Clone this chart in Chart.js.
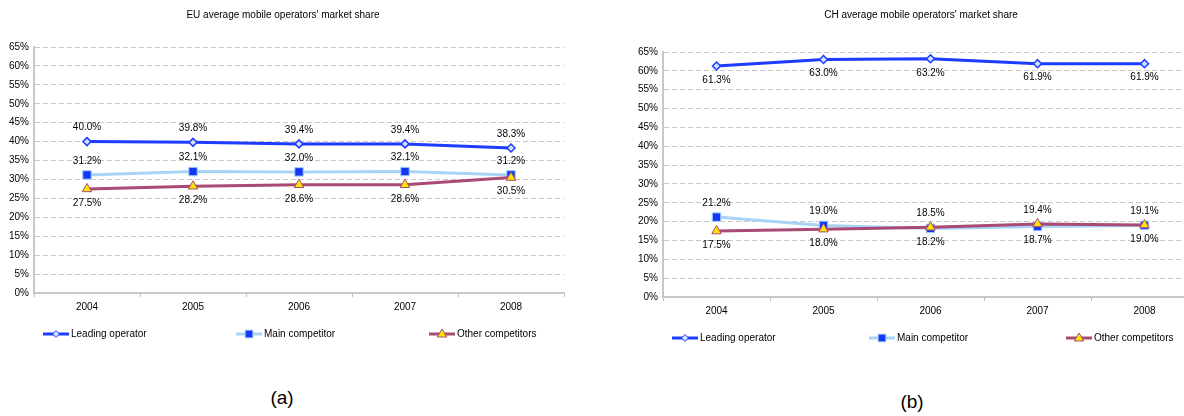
<!DOCTYPE html>
<html>
<head>
<meta charset="utf-8">
<script src="https://cdn.jsdelivr.net/npm/chart.js@4.4.0/dist/chart.umd.min.js"></script>
<style>
  html, body { margin: 0; padding: 0; background: #fff; width: 1184px; height: 416px; overflow: hidden; }
  .box { position: absolute; top: 0; }
  .caption { position: absolute; width: 60px; text-align: center; font: 19px "Liberation Sans", Arial, sans-serif; color: #000; }
</style>
</head>
<body>
<div class="box" style="left:0"><canvas id="euChart" width="580" height="360"></canvas></div>
<div class="box" style="left:600px"><canvas id="chChart" width="620" height="360"></canvas></div>
<div class="caption" style="left:252px;top:387px">(a)</div>
<div class="caption" style="left:882px;top:391px">(b)</div>
<script>
const years = ["2004", "2005", "2006", "2007", "2008"];
const seriesNames = ["Leading operator", "Main competitor", "Other competitors"];

// market share in %
const euLeading = [40.0, 39.8, 39.4, 39.4, 38.3];
const euMain = [31.2, 32.1, 32.0, 32.1, 31.2];
const euOther = [27.5, 28.2, 28.6, 28.6, 30.5];

const chLeading = [61.3, 63.0, 63.2, 61.9, 61.9];
const chMain = [21.2, 19.0, 18.2, 18.7, 19.0];
const chOther = [17.5, 18.0, 18.5, 19.4, 19.1];

const FONT = '"Liberation Sans", Arial, sans-serif';

function drawMarker(ctx, style, x, y, r) {
  ctx.beginPath();
  if (style === "rectRot") {
    ctx.moveTo(x, y - r); ctx.lineTo(x + r, y); ctx.lineTo(x, y + r); ctx.lineTo(x - r, y);
  } else if (style === "rect") {
    const s = r * Math.SQRT1_2;
    ctx.rect(x - s, y - s, 2 * s, 2 * s);
  } else {
    ctx.moveTo(x, y - r); ctx.lineTo(x + r * 0.95, y + r * 0.6); ctx.lineTo(x - r * 0.95, y + r * 0.6);
  }
  ctx.closePath();
  ctx.fill();
  ctx.stroke();
}

// value text above / below every point
const valueLabels = {
  id: "valueLabels",
  afterDatasetsDraw(chart, args, opts) {
    const ctx = chart.ctx;
    ctx.save();
    ctx.font = "10px " + FONT;
    ctx.fillStyle = "#000";
    ctx.textAlign = "center";
    ctx.textBaseline = "middle";
    const sets = chart.data.datasets;
    sets.forEach((ds, di) => {
      chart.getDatasetMeta(di).data.forEach((pt, i) => {
        let pos = ds.labelPos;
        if (pos === "auto") {
          // the higher of the two close lines gets its label on top
          const peers = sets.filter(d => d.labelPos === "auto").map(d => d.data[i]);
          pos = ds.data[i] >= Math.max(...peers) ? "above" : "below";
        }
        const dy = pos === "above" ? -opts.offset : opts.offset;
        ctx.fillText(ds.data[i].toFixed(1) + "%", pt.x, pt.y + dy);
      });
    });
    ctx.restore();
  }
};

// title and legend row drawn at fixed spots
const frame = {
  id: "frame",
  afterDraw(chart, args, opts) {
    const ctx = chart.ctx;
    ctx.save();
    ctx.fillStyle = "#000";
    ctx.font = "10px " + FONT;
    ctx.textAlign = "center";
    ctx.textBaseline = "middle";
    ctx.fillText(opts.title, opts.titleX, opts.titleY);

    ctx.textAlign = "left";
    chart.data.datasets.forEach((ds, i) => {
      const x = opts.legendX + i * opts.legendStep;
      const y = opts.legendY;
      ctx.strokeStyle = ds.borderColor;
      ctx.lineWidth = ds.borderWidth;
      ctx.beginPath();
      ctx.moveTo(x, y);
      ctx.lineTo(x + 26, y);
      ctx.stroke();
      ctx.fillStyle = ds.pointBackgroundColor;
      ctx.strokeStyle = ds.pointBorderColor;
      ctx.lineWidth = 1;
      drawMarker(ctx, ds.pointStyle, x + 13, y, ds.pointRadius - 0.5);
      ctx.fillStyle = "#000";
      ctx.fillText(ds.label, x + 28, y);
    });
    ctx.restore();
  }
};

function makeSets(lead, main, other, leadPos) {
  return [
    {
      label: seriesNames[0], data: lead, order: 0, labelPos: leadPos,
      borderColor: "#1e3cff", borderWidth: 3,
      pointStyle: "rectRot", pointRadius: 4, pointBackgroundColor: "#cfe2ff",
      pointBorderColor: "#1e3cff", pointBorderWidth: 1.5
    },
    {
      label: seriesNames[1], data: main, order: 2, labelPos: "auto",
      borderColor: "#a9d2f7", borderWidth: 3,
      pointStyle: "rect", pointRadius: 6, pointBackgroundColor: "#1238f5",
      pointBorderColor: "#a9d2f7", pointBorderWidth: 1
    },
    {
      label: seriesNames[2], data: other, order: 1, labelPos: "auto",
      borderColor: "#a94a74", borderWidth: 3,
      pointStyle: "triangle", pointRadius: 5.5, pointBackgroundColor: "#ffe600",
      pointBorderColor: "#a94a74", pointBorderWidth: 1
    }
  ];
}

function createShareChart(id, sets, box, frameOpts) {
  const ctx = document.getElementById(id).getContext("2d");
  return new Chart(ctx, {
    type: "line",
    data: { labels: years, datasets: sets },
    plugins: [valueLabels, frame],
    options: {
      responsive: false,
      animation: false,
      layout: { padding: { top: box.top, right: box.right, bottom: 0, left: 0 } },
      elements: { line: { tension: 0 } },
      plugins: {
        legend: { display: false },
        title: { display: false },
        tooltip: { enabled: false },
        valueLabels: { offset: 14 },
        frame: frameOpts
      },
      scales: {
        x: {
          offset: true,
          afterFit(scale) { scale.height = box.xHeight; },
          grid: { offset: true, drawOnChartArea: false, drawTicks: true, tickLength: 4, color: "#c0c0c0" },
          border: { color: "#c8c8c8", width: 2 },
          ticks: { color: "#000", font: { family: FONT, size: 10 }, padding: 4, maxRotation: 0 }
        },
        y: {
          min: 0,
          max: 65,
          afterFit(scale) { scale.width = box.yWidth; },
          grid: { color: "#c8c8c8", lineWidth: 1, drawTicks: false },
          border: { color: "#c8c8c8", width: 2, dash: [5, 3] },
          ticks: {
            stepSize: 5, color: "#000", padding: 5,
            font: { family: FONT, size: 10 },
            callback: v => v + "%"
          }
        }
      }
    }
  });
}

createShareChart("euChart", makeSets(euLeading, euMain, euOther, "above"),
  { top: 47, right: 16, xHeight: 67, yWidth: 34 },
  { title: "EU average mobile operators' market share", titleX: 283, titleY: 15,
    legendX: 43, legendStep: 193, legendY: 334 });

createShareChart("chChart", makeSets(chLeading, chMain, chOther, "below"),
  { top: 52, right: 22, xHeight: 63, yWidth: 63 },
  { title: "CH average mobile operators' market share", titleX: 321, titleY: 15,
    legendX: 72, legendStep: 197, legendY: 338 });
</script>
</body>
</html>
